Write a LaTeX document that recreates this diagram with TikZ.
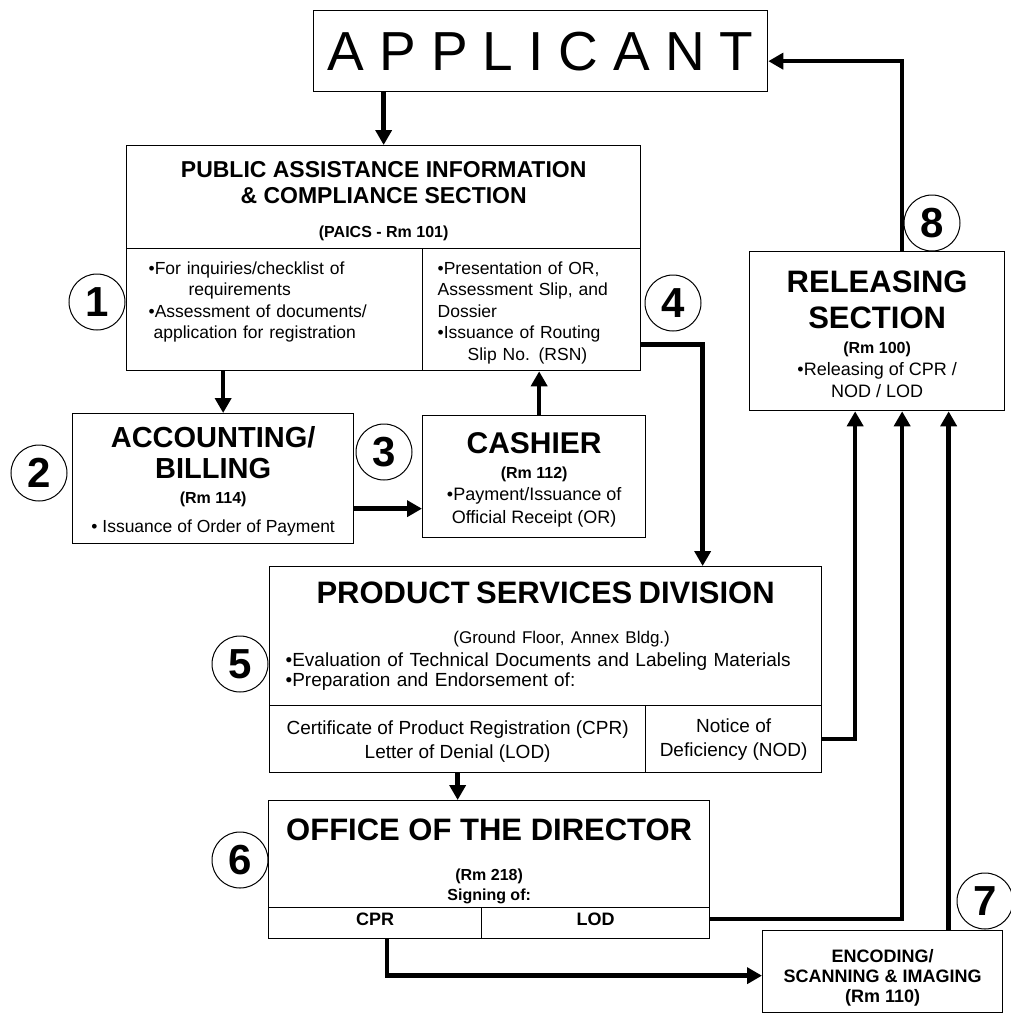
\documentclass[tikz,border=0pt]{standalone}
\usepackage{fontspec}
\setmainfont{Liberation Sans}
\usetikzlibrary{arrows.meta}
\newcommand{\pxfont}[2]{\fontsize{#1}{#2}\selectfont}
\tikzset{
  cell/.style={draw, line width=1.3pt, inner sep=0pt, anchor=north west, align=center},
  flow/.style={line width=4.5pt, -{Triangle[length=15pt,width=16pt]}},
  stepno/.style={circle, draw, line width=1pt, minimum size=56pt, inner sep=0pt, font=\bfseries\pxfont{42}{42}},
}
\begin{document}
\begin{tikzpicture}[x=1pt,y=-1pt]
  \useasboundingbox (0,0) rectangle (1011,1013);
  \node[cell, minimum width=454pt, minimum height=81pt, font=\pxfont{55}{55}] (applicant) at (313,10)
    {A\kern15pt P\kern15pt P\kern15pt L\kern15pt I\kern15pt C\kern15pt A\kern15pt N\kern15pt T};
  \node[cell, minimum width=514pt, minimum height=103pt, font=\bfseries\pxfont{23}{26}] (paics) at (126,145)
    {\rule{0pt}{24pt}PUBLIC ASSISTANCE INFORMATION\\ \& COMPLIANCE SECTION\\[8pt]\pxfont{16}{18}(PAICS - Rm 101)};
  \node[cell, minimum width=296pt, minimum height=122pt, text width=252pt, inner xsep=22pt, align=left, font=\pxfont{17.5}{21.5}] (paicsL) at (126,248)
    {•For inquiries/checklist of\\\hspace*{40pt}requirements\\•Assessment of documents/\\\hspace*{5pt}application for registration\rule[-19pt]{0pt}{19pt}};
  \node[cell, minimum width=218pt, minimum height=122pt, text width=188pt, inner xsep=15pt, align=left, font=\pxfont{17.5}{21.5}] (paicsR) at (422,248)
    {\rule{0pt}{19pt}•Presentation of OR,\\Assessment Slip, and\\Dossier\\•Issuance of Routing\\\hspace*{30pt}Slip No. (RSN)};
  \node[cell, minimum width=281pt, minimum height=130pt, font=\bfseries\pxfont{29}{31}] (accounting) at (72,413)
    {\rule{0pt}{27pt}ACCOUNTING/\\BILLING\\[-6pt]\pxfont{16}{18}(Rm 114)\\[-2pt]\mdseries\pxfont{17.5}{20}• Issuance of Order of Payment};
  \node[cell, minimum width=223pt, minimum height=122pt, font=\bfseries\pxfont{30}{22}] (cashier) at (422,415)
    {\rule{0pt}{27pt}CASHIER\\[3pt]\pxfont{16}{18}(Rm 112)\\\mdseries\pxfont{18}{20}•Payment/Issuance of\\[1pt]\mdseries\pxfont{18}{20}Official Receipt (OR)};
  \node[cell, minimum width=255pt, minimum height=159pt, font=\bfseries\pxfont{31}{24}] (releasing) at (749,251)
    {\rule{0pt}{28pt}RELEASING\\[12pt]SECTION\\[1pt]\pxfont{16}{18}(Rm 100)\\[-2pt]\mdseries\pxfont{18}{20}•Releasing of CPR /\\[-2pt]\mdseries\pxfont{18}{20}NOD / LOD};
  \node[cell, minimum width=552pt, minimum height=139pt, text width=520pt, inner xsep=16pt, align=left, font=\pxfont{19}{20}] (psd) at (269,566)
    {\makebox[520pt]{\bfseries\pxfont{31}{34}PRODUCT SERVICES DIVISION}\\[20pt]
     \makebox[520pt]{\hspace*{32pt}\pxfont{17}{20}(Ground Floor, Annex Bldg.)}\\[3pt]
     •Evaluation of Technical Documents and Labeling Materials\\
     •Preparation and Endorsement of:};
  \node[cell, minimum width=376pt, minimum height=67pt, font=\pxfont{19}{24}] (psdL) at (269,705)
    {\rule{0pt}{19pt}Certificate of Product Registration (CPR)\\Letter of Denial (LOD)};
  \node[cell, minimum width=176pt, minimum height=67pt, font=\pxfont{19}{24}] (psdR) at (645,705)
    {Notice of\\Deficiency (NOD)};
  \node[cell, minimum width=441pt, minimum height=107pt, font=\bfseries\pxfont{16}{20}] (director) at (268,800)
    {\rule{0pt}{36pt}\pxfont{31}{34}OFFICE OF THE DIRECTOR\\[20pt](Rm 218)\\Signing of:};
  \node[cell, minimum width=213pt, minimum height=31pt, font=\bfseries\pxfont{18}{20}] (dirL) at (268,907) {CPR\rule[-8pt]{0pt}{8pt}};
  \node[cell, minimum width=228pt, minimum height=31pt, font=\bfseries\pxfont{18}{20}] (dirR) at (481,907) {LOD\rule[-8pt]{0pt}{8pt}};
  \node[cell, minimum width=240pt, minimum height=82pt, font=\bfseries\pxfont{18}{20}] (encoding) at (762,930)
    {\rule{0pt}{26pt}ENCODING/\\SCANNING \& IMAGING\\(Rm 110)};

  \node[stepno] (n1) at (97,302) {1};
  \node[stepno] (n2) at (39,473) {2};
  \node[stepno] (n3) at (384,452) {3};
  \node[stepno] (n4) at (673,303) {4};
  \node[stepno] (n5) at (240,664) {5};
  \node[stepno] (n6) at (240,860) {6};
  \node[stepno] (n7) at (985,901) {7};
  \node[stepno] (n8) at (932,223) {8};

  \draw[flow] (paics.north |- applicant.south) -- (paics.north);
  \draw[flow] ([xshift=10pt]accounting.north |- paicsL.south) -- ([xshift=10pt]accounting.north);
  \draw[flow] ([yshift=-30pt]accounting.east) -- ([yshift=-30pt]accounting.east -| cashier.west);
  \draw[flow] ([xshift=5pt]cashier.north) -- ([xshift=5pt]cashier.north |- paicsR.south);
  \draw[flow] ([yshift=-35pt]paicsR.east) -| ([xshift=157pt]psd.north);
  \draw[flow] (psdL.south) -- (psdL.south |- director.north);
  \draw[flow] ([xshift=12pt]dirL.south) |- ([yshift=-4pt]encoding.west);
  \draw[flow] (psdR.east) -| ([xshift=-22pt]releasing.south);
  \draw[flow] ([yshift=4pt]dirR.east) -| ([xshift=25pt]releasing.south);
  \draw[flow] ([xshift=66pt]encoding.north) -- ([xshift=66pt]encoding.north |- releasing.south);
  \draw[flow] ([xshift=25pt]releasing.north) |- ([yshift=-10pt]applicant.east);
\end{tikzpicture}
\end{document}
